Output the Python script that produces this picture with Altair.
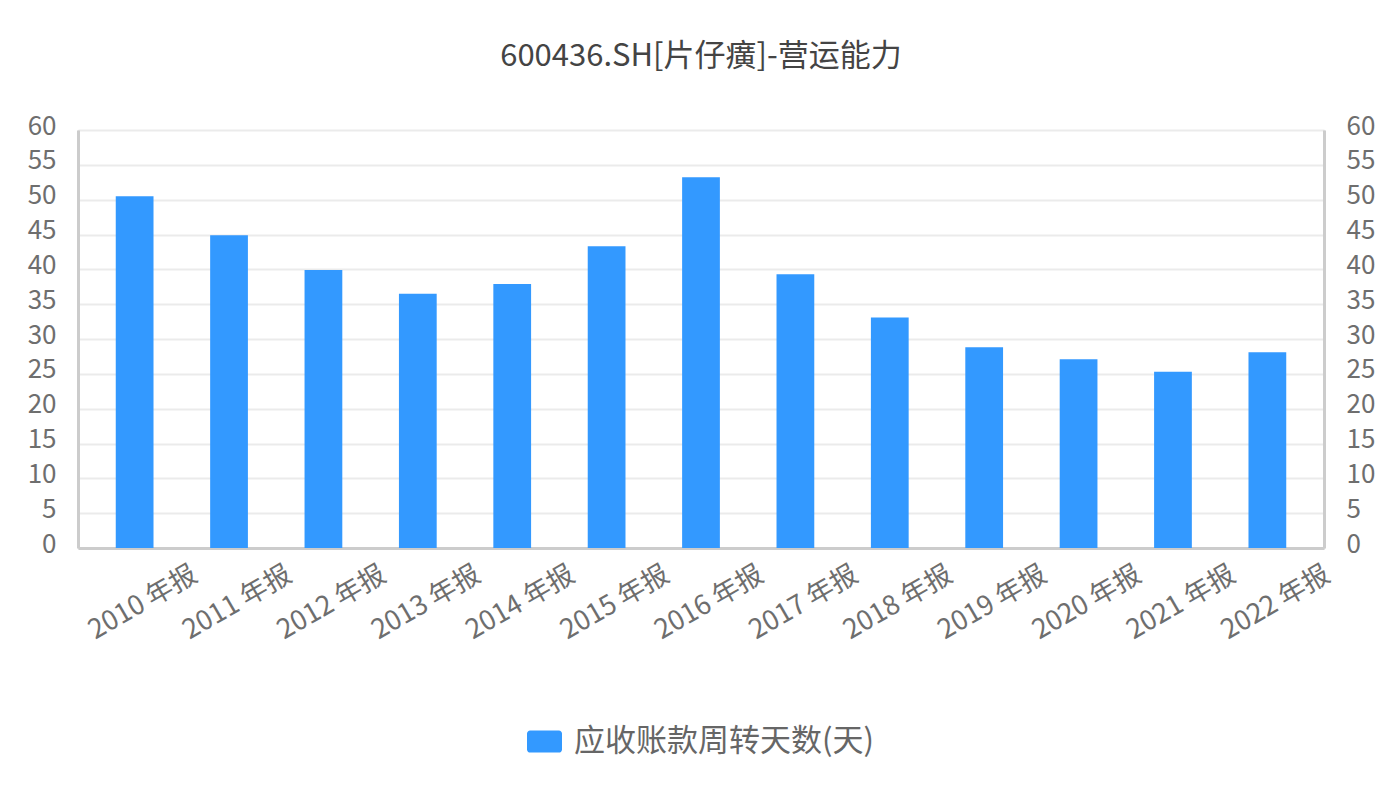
import altair as alt
import pandas as pd

periods = ["2010 年报", "2011 年报", "2012 年报", "2013 年报", "2014 年报", "2015 年报",
           "2016 年报", "2017 年报", "2018 年报", "2019 年报", "2020 年报", "2021 年报", "2022 年报"]
days = [50.5, 44.9, 39.9, 36.5, 37.9, 43.3, 53.2, 39.3, 33.1, 28.8, 27.1, 25.3, 28.1]
series_name = "应收账款周转天数(天)"
y_ticks = list(range(0, 65, 5))

df = pd.DataFrame({"period": periods, "days": days, "series": [series_name] * len(periods)})

FONT = "Noto Sans CJK SC"
BAR = "#3399ff"
LABEL = "#6e6e6e"

x_enc = alt.X(
    "period:N", sort=periods, title=None,
    scale=alt.Scale(paddingInner=0.6, paddingOuter=0.4),
    axis=alt.Axis(labelAngle=330, labelAlign="right", labelBaseline="top",
                  labelOffset=54, labelPadding=13, labelFontSize=27, labelColor=LABEL,
                  labelFont=FONT, domainColor="#cccccc", domainWidth=3, ticks=False,
                  grid=False, labelOverlap=False),
)

y_scale = alt.Scale(domain=[0, 60], nice=False)

bars = alt.Chart(df).mark_bar().encode(
    x=x_enc,
    y=alt.Y("days:Q", title=None, scale=y_scale,
            axis=alt.Axis(values=y_ticks, orient="left", labelFontSize=26, labelColor=LABEL,
                          labelFont=FONT, labelPadding=22, labelOffset=-4, ticks=False,
                          domainColor="#cccccc", domainWidth=3, grid=True,
                          gridColor="#ebebeb", gridWidth=2)),
    color=alt.Color("series:N", scale=alt.Scale(range=[BAR]),
                    legend=alt.Legend(title=None, orient="none", legendX=449, legendY=594,
                                      direction="horizontal",
                                      symbolType="M-0.82,-0.63H0.82A0.18,0.18 0 0 1 1,-0.45V0.45A0.18,0.18 0 0 1 0.82,0.63H-0.82A0.18,0.18 0 0 1 -1,0.45V-0.45A0.18,0.18 0 0 1 -0.82,-0.63Z",
                                      symbolSize=1225, symbolStrokeWidth=0, symbolOpacity=1,
                                      labelFontSize=31, labelFont=FONT, labelColor="#666666",
                                      labelOffset=12, labelLimit=600)),
)

right = alt.Chart(df).mark_bar(opacity=0).encode(
    x=x_enc,
    y=alt.Y("days:Q", title=None, scale=y_scale,
            axis=alt.Axis(values=y_ticks, orient="right", labelFontSize=26, labelColor=LABEL,
                          labelFont=FONT, labelPadding=22, labelOffset=-4, ticks=False,
                          domainColor="#cccccc", domainWidth=3, grid=False)),
)

chart = alt.layer(bars, right).resolve_scale(y="independent").properties(
    width=1246, height=418,
    title=alt.TitleParams("600436.SH[片仔癀]-营运能力", font=FONT, fontSize=31,
                          fontWeight="normal", color="#444444", anchor="middle",
                          frame="group", baseline="alphabetic", offset=16),
    autosize=alt.AutoSizeParams(type="none"),
    padding={"left": 70, "top": 122, "right": 60, "bottom": 236},
).configure_view(stroke=None).configure(background="white")

chart.save("out.html", embed_options={"renderer": "svg", "actions": False})
